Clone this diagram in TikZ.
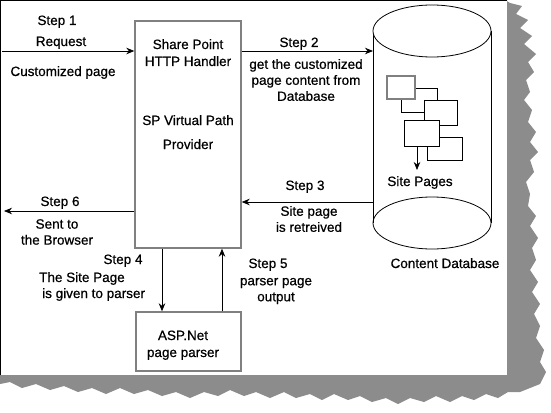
\documentclass[tikz,border=0pt]{standalone}
\usepackage{fontspec}
\setmainfont[FakeBold=0.6]{Liberation Sans}
\usetikzlibrary{arrows.meta}
\tikzset{
  lbl/.style={anchor=base,inner sep=0pt,font=\fontsize{13.5}{16}\selectfont},
  mlbl/.style={align=center,inner sep=0pt,font=\fontsize{13.5}{16}\selectfont},
  graybox/.style={draw=black!50,line width=1.4pt,fill=white,inner sep=0pt},
  pagebox/.style={draw=black,line width=0.8pt,fill=white,inner sep=0pt},
  arr/.style={draw=black,line width=0.8pt,-{Stealth[length=8pt,width=6.5pt]}},
  dbline/.style={draw=black,line width=0.8pt}
}
\begin{document}
\begin{tikzpicture}[x=1pt,y=-1pt]
\useasboundingbox (0,0) rectangle (551,412);
% torn paper shadow
\fill[black!45] (505,0) -- (510,3) -- (522,6) -- (516,14) -- (528,20) -- (520,28) -- (532,36) -- (524,44) -- (536,54) -- (528,62) -- (534,72) -- (526,80) -- (530,92) -- (524,100) -- (532,110) -- (528,122) -- (536,132) -- (530,142) -- (538,152) -- (530,160) -- (534,172) -- (526,182) -- (530,194) -- (528,206) -- (536,216) -- (530,226) -- (538,238) -- (532,248) -- (536,260) -- (530,270) -- (538,282) -- (532,292) -- (540,304) -- (534,314) -- (540,326) -- (536,338) -- (544,350) -- (540,362) -- (546,372) -- (540,384) -- (530,388) -- (520,392) -- (508,392) -- (498,398) -- (486,394) -- (474,400) -- (462,396) -- (450,402) -- (436,396) -- (424,402) -- (410,398) -- (398,404) -- (386,398) -- (372,402) -- (360,396) -- (348,400) -- (334,394) -- (322,400) -- (310,394) -- (296,398) -- (284,392) -- (270,398) -- (256,392) -- (244,396) -- (230,390) -- (218,396) -- (204,392) -- (190,398) -- (176,392) -- (162,396) -- (148,390) -- (134,394) -- (120,388) -- (106,394) -- (92,388) -- (78,392) -- (64,386) -- (50,390) -- (36,384) -- (22,388) -- (10,382) -- (0,384) -- (0,375) -- (507,375) -- (507,0) -- cycle;
\fill[white] (0,0) rectangle (507,375);
\draw[black,line width=1pt] (0.5,375) -- (0.5,0.5) -- (507,0.5);

% main boxes
\node[graybox,minimum width=106pt,minimum height=227pt] (main) at (188,134.5) {};
\node[graybox,minimum width=105pt,minimum height=59pt] (asp) at (188.5,341.5) {};

\node[lbl] (sp1) at (188,49) {Share Point};
\node[lbl] (sp2) at (188,66) {HTTP Handler};
\node[lbl] (vp1) at (188,125) {SP Virtual Path};
\node[lbl] (vp2) at (188,149) {Provider};
\node[lbl] (asp1) at (183,340) {ASP.Net};
\node[lbl] (asp2) at (183,357) {page parser};

% cylinder
\draw[dbline] (373,31) -- (373,223);
\draw[dbline] (491,31) -- (491,223);
\draw[dbline,fill=white] (432,31) ellipse [x radius=59, y radius=26];
\draw[dbline] (432,223) ellipse [x radius=59, y radius=26];
\coordinate (dbL2) at (373,51);
\coordinate (dbL3) at (373,202);

% site pages
\node[pagebox,minimum width=36pt,minimum height=24pt] (p2) at (419,100) {};
\node[pagebox,minimum width=33pt,minimum height=25pt] (p3) at (440.5,112.5) {};
\node[pagebox,minimum width=35pt,minimum height=23pt] (p5) at (444.5,148.5) {};
\node[pagebox,minimum width=35pt,minimum height=26pt] (p4) at (421.5,133) {};
\node[graybox,line width=1.2pt,minimum width=28pt,minimum height=23pt] (p1) at (401,87.5) {};
\coordinate (spx) at (417,170);
\draw[arr] (p4.south -| spx) -- (spx);
\node[lbl] (sitepages) at (420,186) {Site Pages};
\node[lbl] (cdb) at (445,268) {Content Database};

% step 1
\coordinate (s1) at (2,51);
\draw[arr] (s1) -- (s1 -| main.west);
\node[lbl] (st1) at (57,25) {Step 1};
\node[lbl] (req) at (61,46) {Request};
\node[lbl] (cust) at (63,76) {Customized page};

% step 2
\draw[arr] (dbL2 -| main.east) -- (dbL2);
\node[lbl] (st2) at (299,47) {Step 2};
\node[mlbl] (t2) at (306,80) {get the customized\\page content from\\Database};

% step 3
\draw[arr] (dbL3) -- (dbL3 -| main.east);
\node[lbl] (st3) at (305,190) {Step 3};
\node[mlbl] (t3) at (309,219) {Site page\\is retreived};

% step 6
\coordinate (s6) at (4,211);
\draw[arr] (s6 -| main.west) -- (s6);
\node[lbl] (st6) at (60,206) {Step 6};
\node[mlbl] (t6) at (57,232) {Sent to\\the Browser};

% step 4
\coordinate (x4) at (162,0);
\draw[arr] (main.south -| x4) -- (asp.north -| x4);
\node[lbl] (st4) at (123,264) {Step 4};
\node[lbl,anchor=base west] (t4a) at (39,282) {The Site Page};
\node[lbl,anchor=base west] (t4b) at (42,298) {is given to parser};

% step 5
\coordinate (x5) at (222,0);
\draw[arr] (asp.north -| x5) -- (main.south -| x5);
\node[lbl] (st5) at (268,268) {Step 5};
\node[mlbl] (t5) at (276,291) {parser page\\output};
\end{tikzpicture}
\end{document}
